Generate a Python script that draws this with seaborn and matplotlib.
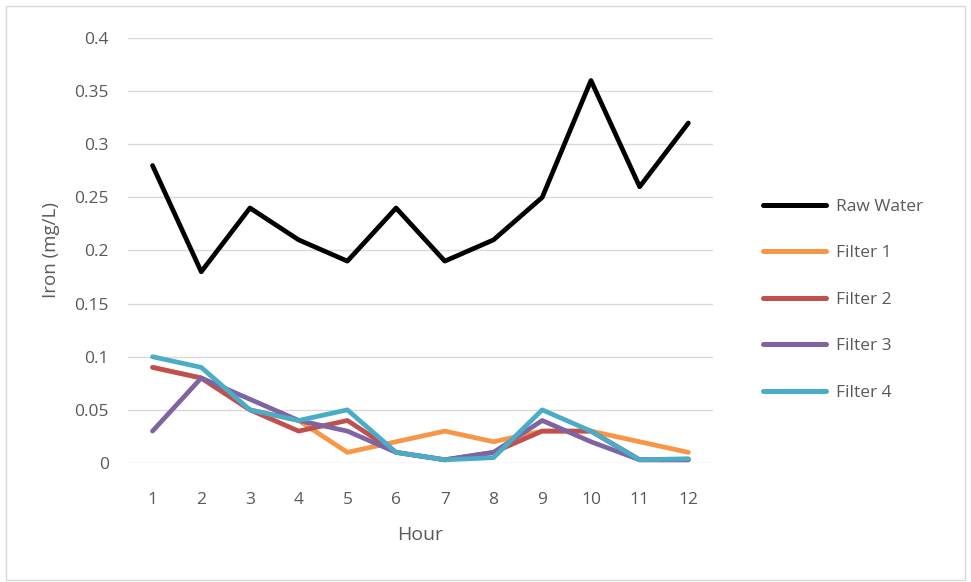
import numpy as np
import pandas as pd
import matplotlib
matplotlib.use("Agg")
import matplotlib.pyplot as plt
import seaborn as sns

hours = [1, 2, 3, 4, 5, 6, 7, 8, 9, 10, 11, 12]
raw_water = [0.28, 0.18, 0.24, 0.21, 0.19, 0.24, 0.19, 0.21, 0.25, 0.36, 0.26, 0.32]
filter_1 = [0.09, 0.08, 0.05, 0.04, 0.01, 0.02, 0.03, 0.02, 0.03, 0.03, 0.02, 0.01]
filter_2 = [0.09, 0.08, 0.05, 0.03, 0.04, 0.01, 0.003, 0.01, 0.03, 0.03, 0.003, 0.003]
filter_3 = [0.03, 0.08, 0.06, 0.04, 0.03, 0.01, 0.003, 0.01, 0.04, 0.02, 0.003, 0.003]
filter_4 = [0.10, 0.09, 0.05, 0.04, 0.05, 0.01, 0.003, 0.005, 0.05, 0.03, 0.003, 0.004]
series_names = ["Raw Water", "Filter 1", "Filter 2", "Filter 3", "Filter 4"]
colors = ["#000000", "#F79646", "#C0504D", "#8064A2", "#4BACC6"]

df = pd.DataFrame({"Hour": hours, "Raw Water": raw_water, "Filter 1": filter_1,
                   "Filter 2": filter_2, "Filter 3": filter_3, "Filter 4": filter_4})
long = df.melt(id_vars="Hour", var_name="Series", value_name="Iron")
# categorical x positions like Excel's category axis
long["pos"] = long["Hour"] - 1

sns.set_style("white")
plt.rcParams["font.family"] = ["Open Sans", "DejaVu Sans"]

fig = plt.figure(figsize=(9.71, 5.82), dpi=100)
ax = fig.add_axes([0.132, 0.2045, 0.602, 0.7302])

sns.lineplot(data=long, x="pos", y="Iron", hue="Series", hue_order=series_names,
             palette=colors, linewidth=3.4, ax=ax, legend=False)

ax.set_xlim(-0.5, 11.5)
ax.set_ylim(0, 0.4)
ax.set_xticks(range(len(hours)))
ax.set_xticklabels([str(h) for h in hours])
yt = [0, 0.05, 0.1, 0.15, 0.2, 0.25, 0.3, 0.35, 0.4]
ax.set_yticks(yt)
ax.set_yticklabels(["0", "0.05", "0.1", "0.15", "0.2", "0.25", "0.3", "0.35", "0.4"])
ax.grid(axis="y", color="#D9D9D9", linewidth=1)
ax.set_axisbelow(True)
for s in ax.spines.values():
    s.set_visible(False)
ax.tick_params(axis="both", length=0, labelsize=12.5, labelcolor="#595959")
ax.tick_params(axis="x", pad=21)
ax.tick_params(axis="y", pad=14)
ax.set_xlabel("Hour", fontsize=14, color="#595959", labelpad=13)
ax.set_ylabel("Iron (mg/L)", fontsize=13.5, color="#595959", labelpad=10)

handles = [plt.Line2D([], [], color=c, linewidth=3.6, solid_capstyle="round") for c in colors]
leg = fig.legend(handles, series_names, loc="center left", bbox_to_anchor=(0.77, 0.485),
                 frameon=False, fontsize=12.5, labelspacing=1.75, handlelength=3.6,
                 handletextpad=0.6)
for t in leg.get_texts():
    t.set_color("#595959")

fig.patches.append(plt.Rectangle((0.006, 0.004), 0.988, 0.985, transform=fig.transFigure,
                                 fill=False, edgecolor="#D9D9D9", linewidth=1))

fig.savefig("out.png", dpi=100)
